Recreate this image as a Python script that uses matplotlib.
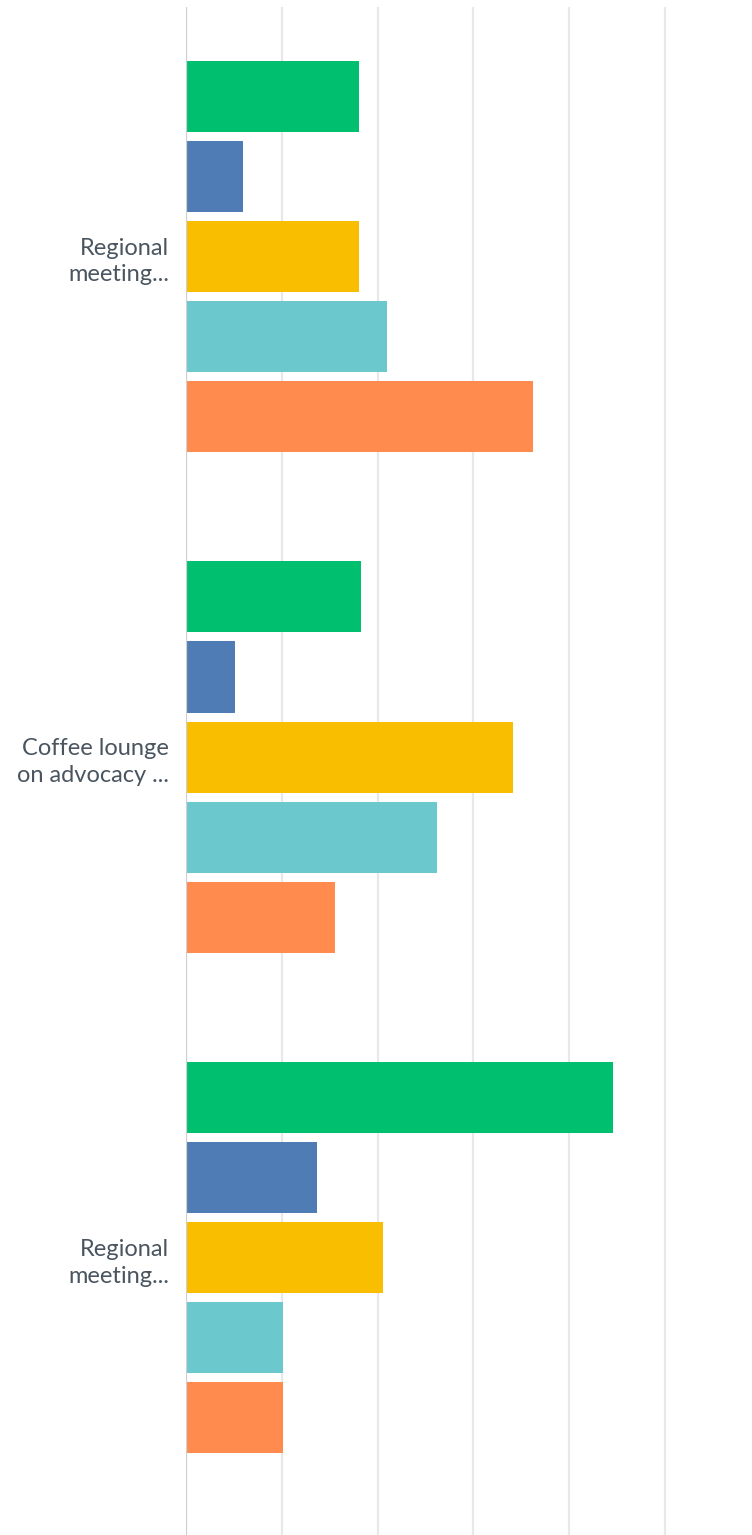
import matplotlib.pyplot as plt
import numpy as np

# answer groups (as shown, truncated) and the five series per group
groups = ["Regional\nmeeting...", "Coffee lounge\non advocacy ...", "Regional\nmeeting..."]
series_colors = ["#00bf6f", "#507cb6", "#f9be00", "#6bc8cd", "#ff8b4f"]

green = [36.1, 36.5, 89.1]
blue = [11.9, 10.2, 27.3]
yellow = [36.1, 68.3, 41.1]
teal = [42.0, 52.4, 20.3]
orange = [72.4, 31.1, 20.3]
series = [green, blue, yellow, teal, orange]

fig = plt.figure(figsize=(7.52, 15.35), dpi=100)
ax = fig.add_axes([186 / 752, 0, 1 - 186 / 752, 1 - 7 / 1535])

y = np.arange(len(groups))
pitch = 0.16
height = 0.142
for k, vals in enumerate(series):
    ax.barh(y + (k - 2) * pitch, vals, height=height, color=series_colors[k], zorder=3)

ax.set_xlim(0, 118.2)
ax.set_ylim(2.554, -0.4985)
ax.set_xticks([20, 40, 60, 80, 100])
ax.grid(axis="x", color="#e8e8e8", linewidth=1.6, zorder=0)
ax.axvline(0, color="#cfcfcf", linewidth=1.6, zorder=4)
ax.tick_params(axis="x", length=0, labelbottom=False)
ax.tick_params(axis="y", length=0, pad=12)
ax.set_yticks(y)
ax.set_yticklabels(groups, fontsize=17, color="#4a5560", family=["Lato", "DejaVu Sans"],
                   linespacing=1.35)
for s in ax.spines.values():
    s.set_visible(False)

fig.savefig("out.png", dpi=100)
